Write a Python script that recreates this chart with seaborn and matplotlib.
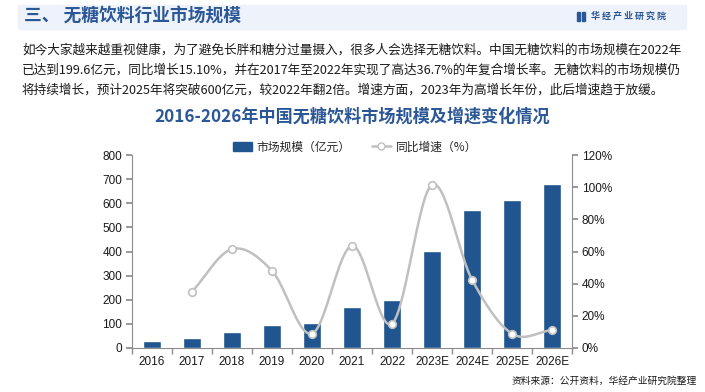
import numpy as np
import pandas as pd
import matplotlib
matplotlib.use('Agg')
import matplotlib.pyplot as plt
import matplotlib.patches as mpatches
from matplotlib.ticker import FuncFormatter, MultipleLocator
import seaborn as sns

# data
years = ['2016', '2017', '2018', '2019', '2020', '2021', '2022',
         '2023E', '2024E', '2025E', '2026E']
market_size = [30, 43, 68, 97, 105, 171, 199.6, 403, 573, 615, 681]
growth = [None, 35.0, 61.5, 48.0, 8.9, 63.5, 15.1, 101.5, 42.5, 8.9, 11.2]

sns.set_theme(style='white')
plt.rcParams['font.family'] = ['Liberation Sans', 'Noto Sans CJK SC', 'DejaVu Sans']
cjk = ['Noto Sans CJK SC', 'DejaVu Sans']

bar_color = '#20558f'
line_color = '#c0c0c0'
title_blue = '#2b5797'
axis_gray = '#8c8c8c'

fig = plt.figure(figsize=(7.05, 3.92), dpi=100)
W, H = 705, 392

def fx(px):
    return px / W

def fy(py):
    return 1 - py / H

# header band
fig.patches.append(mpatches.Rectangle((fx(18), fy(29)), fx(668), 24 / H,
                                      transform=fig.transFigure, color='#eef3fb', zorder=0))
fig.text(fx(24), fy(17), '三、 无糖饮料行业市场规模', family=cjk, fontsize=12.8,
         fontweight='bold', color=title_blue, va='center')
fig.patches.append(mpatches.Rectangle((fx(577), fy(21)), 2.5 / W, 9 / H,
                                      transform=fig.transFigure, color=title_blue))
fig.patches.append(mpatches.Rectangle((fx(582), fy(21)), 2.5 / W, 9 / H,
                                      transform=fig.transFigure, color=title_blue))
fig.text(fx(591), fy(16.5), '华 经 产 业 研 究 院', family=cjk, fontsize=6.5,
         fontweight='bold', color=title_blue, va='center')

# body text
body = ['如今大家越来越重视健康，为了避免长胖和糖分过量摄入，很多人会选择无糖饮料。中国无糖饮料的市场规模在2022年',
        '已达到199.6亿元，同比增长15.10%，并在2017年至2022年实现了高达36.7%的年复合增长率。无糖饮料的市场规模仍',
        '将持续增长，预计2025年将突破600亿元，较2022年翻2倍。增速方面，2023年为高增长年份，此后增速趋于放缓。']
for i, line in enumerate(body):
    fig.text(fx(22), fy(50 + i * 20), line, family=cjk, fontsize=9.1, color='#1a1a1a', va='center')

fig.text(fx(352), fy(117), '2016-2026年中国无糖饮料市场规模及增速变化情况', family=cjk,
         fontsize=12.3, fontweight='bold', color=title_blue, ha='center', va='center')

fig.text(fx(697), fy(381), '资料来源：公开资料，华经产业研究院整理', family=cjk, fontsize=7,
         color='#1a1a1a', ha='right', va='center')

# main axes
ax = fig.add_axes([fx(132), fy(348), fx(440), (348 - 155) / H])
ax.set_facecolor('none')
df = pd.DataFrame({'year': years, 'size': market_size, 'growth': growth})
sns.barplot(data=df, x='year', y='size', color=bar_color, width=0.45, ax=ax, saturation=1)
ax.set_xlim(-0.5, len(years) - 0.5)
ax.set_ylim(0, 800)
ax.yaxis.set_major_locator(MultipleLocator(100))
ax.set_xlabel('')
ax.set_ylabel('')
ax.set_xticks(range(len(years)))
ax.set_xticklabels(years, fontsize=8.5, color='#1a1a1a')
ax.set_xticks(np.arange(-0.5, len(years), 1), minor=True)
ax.tick_params(axis='x', which='major', length=0, pad=6)
ax.tick_params(axis='x', which='minor', length=4, color=axis_gray, direction='out', bottom=True)
ax.tick_params(axis='y', length=4, color=axis_gray, direction='out', left=True, labelsize=8.5,
               labelcolor='#1a1a1a', pad=3)
for s in ['top', 'right']:
    ax.spines[s].set_visible(False)
for s in ['left', 'bottom']:
    ax.spines[s].set_color(axis_gray)
    ax.spines[s].set_linewidth(0.8)

# growth line on twin axis
ax2 = ax.twinx()
ax2.set_ylim(0, 120)
ax2.yaxis.set_major_locator(MultipleLocator(20))
ax2.yaxis.set_major_formatter(FuncFormatter(lambda v, p: f'{v:.0f}%'))
ax2.tick_params(axis='y', length=4, color=axis_gray, direction='out', right=True, labelsize=8.5,
                labelcolor='#1a1a1a', pad=3)
for s in ['top', 'left', 'bottom']:
    ax2.spines[s].set_visible(False)
ax2.spines['right'].set_color(axis_gray)
ax2.spines['right'].set_linewidth(0.8)
ax2.grid(False)

gx = np.array([i for i, g in enumerate(growth) if g is not None], dtype=float)
gy = np.array([g for g in growth if g is not None], dtype=float)

# catmull-rom smoothing like Excel's smoothed line
px = np.concatenate([[2 * gx[0] - gx[1]], gx, [2 * gx[-1] - gx[-2]]])
py = np.concatenate([[2 * gy[0] - gy[1]], gy, [2 * gy[-1] - gy[-2]]])
sx, sy = [], []
t = np.linspace(0, 1, 30)
for i in range(1, len(px) - 2):
    for arr, out in ((px, sx), (py, sy)):
        p0, p1, p2, p3 = arr[i - 1], arr[i], arr[i + 1], arr[i + 2]
        out.extend(0.5 * ((2 * p1) + (-p0 + p2) * t + (2 * p0 - 5 * p1 + 4 * p2 - p3) * t ** 2
                          + (-p0 + 3 * p1 - 3 * p2 + p3) * t ** 3))
ax2.plot(sx, sy, color=line_color, lw=1.8, zorder=3)
ax2.plot(gx, gy, ls='none', marker='o', ms=5.5, mfc='white', mec=line_color, mew=1.2, zorder=4)

# legend
handles = [mpatches.Patch(color=bar_color, label='市场规模（亿元）'),
           plt.Line2D([], [], color=line_color, lw=1.8, marker='o', ms=5, mfc='white',
                      mec=line_color, label='同比增速（%）')]
fig.legend(handles=handles, loc='center', bbox_to_anchor=(fx(355), fy(147)), ncol=2,
           frameon=False, prop={'family': cjk, 'size': 8.5}, handlelength=1.6,
           handletextpad=0.4, columnspacing=1.8)

fig.savefig('out.png', dpi=100)
